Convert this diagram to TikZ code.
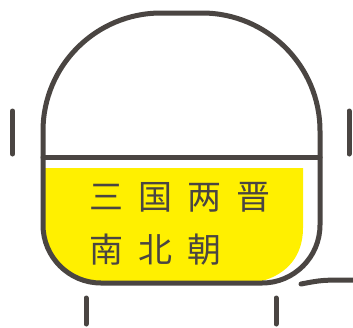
\documentclass[tikz,border=0pt]{standalone}
\usepackage{fontspec}
\newfontfamily\cjk{Noto Sans CJK SC}
\usetikzlibrary{positioning,calc}
\definecolor{inkgray}{HTML}{4A4542}
\definecolor{hiyellow}{HTML}{FFF000}

\begin{document}
\begin{tikzpicture}[x=1pt,y=-1pt,
    outline/.style={draw=inkgray, line width=5pt, line cap=round, line join=round},
    label/.style={inner sep=0pt, anchor=west, text=inkgray, font=\cjk\fontsize{34pt}{34pt}\selectfont}]
  % Corner radii of the capsule (top and bottom)
  \newcommand{\Rtop}{118}
  \newcommand{\Rbot}{58}
  \newcommand{\gap}{\hspace{15pt}}

  \useasboundingbox (0,0) rectangle (353,327);

  % Yellow highlight
  \fill[hiyellow] (45,168) -- (303,168) -- (303,228)
    .. controls (303,256) and (287,274) .. (262,281) -- (101,281)
    arc[start angle=90, end angle=180, radius=56] -- cycle;

  % Draw the capsule
  \draw[outline] (43,157) -- (43,131)
    arc[start angle=180, end angle=270, radius=\Rtop] -- (202,13)
    arc[start angle=270, end angle=360, radius=\Rtop] -- (320,225)
    arc[start angle=0, end angle=90, radius=\Rbot] -- (101,283)
    arc[start angle=90, end angle=180, radius=\Rbot] -- cycle;
  \draw[outline] (43,157) -- (320,157); % divider

  % Ticks around
  \draw[outline] (12.5,111) -- (12.5,154);
  \draw[outline] (349,111) -- (349,154);
  \draw[outline] (86,298) -- (86,324);
  \draw[outline] (276,298) -- (276,324);
  \draw[outline] (301,284) .. controls (322,280) .. (353,280);

  % Labels
  \node[label] (era1) at (89,197) {三\gap 国\gap 两\gap 晋};
  \node[label] (era2) at (89,250) {南\gap 北\gap 朝};
\end{tikzpicture}
\end{document}
